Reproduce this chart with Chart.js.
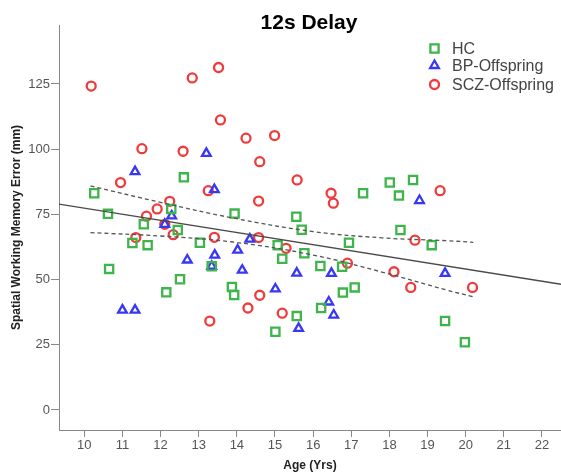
<!DOCTYPE html>
<html lang="en">
<head>
    <meta charset="UTF-8">
    <title>12s Delay</title>
    <script src="https://cdn.jsdelivr.net/npm/chart.js"></script>
    <style>
        body { margin: 0; background: #fff; }
        #wrap { width: 561px; height: 476px; }
    </style>
</head>
<body>
<div id="wrap"><canvas id="delayChart" width="561" height="476"></canvas></div>

<script>
// values
var hcAge   = [12.61, 10.26, 12.28, 10.62, 13.94, 15.56, 11.56, 12.45, 15.70, 11.26, 11.66, 13.03, 15.07, 15.77, 15.19, 13.34, 10.65, 12.51, 12.15, 13.87, 13.93, 15.57, 15.01, 17.31, 18.01, 18.62, 18.25, 18.29, 19.11, 16.94, 16.19, 16.76, 17.09, 16.78, 16.21, 19.46, 19.98];
var hcError = [89.2, 83.1, 77.1, 75.2, 75.3, 74.1, 71.2, 69.0, 69.1, 64.0, 63.2, 64.1, 63.2, 60.1, 58.0, 55.1, 54.1, 50.1, 45.1, 47.2, 44.1, 36.0, 30.0, 83.1, 87.2, 88.2, 82.2, 69.0, 63.2, 64.1, 55.2, 54.9, 47.0, 45.0, 39.1, 34.1, 26.0];

var bpAge   = [13.20, 11.33, 13.41, 12.29, 12.11, 14.34, 13.42, 14.02, 12.70, 13.34, 14.14, 15.57, 15.01, 15.62, 11.00, 11.33, 18.79, 16.48, 19.46, 16.41, 16.54];
var bpError = [98.4, 91.4, 84.5, 74.4, 71.2, 65.5, 59.4, 61.3, 57.5, 55.1, 53.6, 52.5, 46.4, 31.3, 38.3, 38.3, 80.3, 52.4, 52.4, 41.4, 36.4];

var sczAge   = [10.18, 12.83, 13.52, 13.57, 14.24, 14.99, 11.51, 12.59, 14.60, 10.95, 15.58, 13.25, 14.57, 12.24, 11.91, 11.63, 12.11, 12.33, 11.35, 13.41, 14.57, 15.29, 14.60, 14.29, 15.19, 13.29, 16.47, 16.53, 19.33, 18.67, 16.90, 18.12, 18.56, 20.18];
var sczError = [124.2, 127.3, 131.3, 111.2, 104.2, 105.2, 100.2, 99.2, 95.2, 87.2, 88.2, 84.1, 80.1, 80.0, 77.1, 74.3, 71.2, 67.2, 66.1, 66.2, 66.1, 62.0, 44.0, 39.1, 37.1, 34.1, 83.1, 79.3, 84.1, 65.1, 56.3, 53.0, 47.0, 47.0];

// fit line and its confidence band
var fitAge   = [9.336, 22.5];
var fitError = [78.9, 48.2];
var ciAge    = [10.16, 12.0, 13.9, 16.0, 17.8, 19.5, 20.2];
var ciUpper  = [85.9, 79.6, 73.6, 68.4, 66.0, 64.9, 64.3];
var ciLower  = [68.0, 66.7, 64.4, 59.4, 52.9, 46.0, 43.4];

var xTicks = [10, 11, 12, 13, 14, 15, 16, 17, 18, 19, 20, 21, 22];
var yTicks = [0, 25, 50, 75, 100, 125];

var green = '#3db54a';
var blue = '#3737f5';
var red = '#ef3b3b';
var fontFam = "Arial, 'Liberation Sans', sans-serif";

function pairs(xs, ys) {
    return xs.map(function (x, i) { return { x: x, y: ys[i] }; });
}

// title and the legend box drawn by hand, placed like the SPSS output
var decorations = {
    id: 'decorations',
    afterDraw: function (chart) {
        var ctx = chart.ctx;
        ctx.save();
        ctx.fillStyle = '#000';
        ctx.font = 'bold 21px ' + fontFam;
        ctx.textAlign = 'center';
        ctx.textBaseline = 'alphabetic';
        ctx.fillText('12s Delay', 309, 29);

        var items = [
            { text: 'HC', style: 'rect', color: green, y: 48.5, r: 5.8 },
            { text: 'BP-Offspring', style: 'triangle', color: blue, y: 65.5, r: 5 },
            { text: 'SCZ-Offspring', style: 'circle', color: red, y: 84.5, r: 4.5 }
        ];
        ctx.font = '16px ' + fontFam;
        ctx.textAlign = 'left';
        ctx.textBaseline = 'middle';
        items.forEach(function (it) {
            ctx.strokeStyle = it.color;
            ctx.fillStyle = 'rgba(0,0,0,0)';
            ctx.lineWidth = 2.3;
            Chart.helpers.drawPoint(ctx, { pointStyle: it.style, radius: it.r, rotation: 0, borderWidth: 2.3 }, 434.5, it.y);
            ctx.fillStyle = '#444';
            ctx.fillText(it.text, 452, it.y + 1);
        });
        ctx.restore();
    }
};

var ctx = document.getElementById('delayChart').getContext('2d');
var delayChart = new Chart(ctx, {
    type: 'scatter',
    data: {
        datasets: [
            {
                label: 'Fit',
                data: pairs(fitAge, fitError),
                showLine: true,
                borderColor: '#4a4a4a',
                borderWidth: 1.3,
                pointRadius: 0
            },
            {
                label: 'Upper',
                data: pairs(ciAge, ciUpper),
                showLine: true,
                borderColor: '#555',
                borderWidth: 1.3,
                borderDash: [4, 3],
                tension: 0.4,
                pointRadius: 0
            },
            {
                label: 'Lower',
                data: pairs(ciAge, ciLower),
                showLine: true,
                borderColor: '#555',
                borderWidth: 1.3,
                borderDash: [4, 3],
                tension: 0.4,
                pointRadius: 0
            },
            {
                label: 'HC',
                data: pairs(hcAge, hcError),
                pointStyle: 'rect',
                pointRadius: 5.8,
                borderColor: green,
                backgroundColor: 'rgba(0,0,0,0)',
                pointBorderWidth: 2.3
            },
            {
                label: 'BP-Offspring',
                data: pairs(bpAge, bpError),
                pointStyle: 'triangle',
                pointRadius: 5,
                borderColor: blue,
                backgroundColor: 'rgba(0,0,0,0)',
                pointBorderWidth: 2.3
            },
            {
                label: 'SCZ-Offspring',
                data: pairs(sczAge, sczError),
                pointStyle: 'circle',
                pointRadius: 4.5,
                borderColor: red,
                backgroundColor: 'rgba(0,0,0,0)',
                pointBorderWidth: 2.3
            }
        ]
    },
    options: {
        responsive: false,
        animation: false,
        devicePixelRatio: 1,
        layout: {
            autoPadding: false,
            padding: { top: 25, left: 0, right: 0, bottom: 0 }
        },
        plugins: {
            legend: { display: false },
            tooltip: { enabled: false }
        },
        scales: {
            x: {
                type: 'linear',
                min: 9.336,
                max: 22.5,
                afterBuildTicks: function (scale) {
                    scale.ticks = xTicks.map(function (v) { return { value: v }; });
                },
                afterFit: function (scale) { scale.height = 46; },
                ticks: {
                    color: '#555',
                    font: { family: fontFam, size: 13 },
                    padding: 1,
                    maxRotation: 0
                },
                grid: {
                    drawOnChartArea: false,
                    tickLength: 7,
                    tickColor: '#888'
                },
                border: { color: '#888', width: 1 },
                title: {
                    display: true,
                    text: 'Age (Yrs)',
                    color: '#222',
                    font: { family: fontFam, size: 12, weight: 'bold' },
                    padding: { top: 0, bottom: 3 }
                }
            },
            y: {
                type: 'linear',
                min: -7.67,
                max: 147.6,
                afterBuildTicks: function (scale) {
                    scale.ticks = yTicks.map(function (v) { return { value: v }; });
                },
                afterFit: function (scale) { scale.width = 59; },
                ticks: {
                    color: '#555',
                    font: { family: fontFam, size: 13 },
                    padding: 1
                },
                grid: {
                    drawOnChartArea: false,
                    tickLength: 8,
                    tickColor: '#888'
                },
                border: { color: '#888', width: 1 },
                title: {
                    display: true,
                    text: 'Spatial Working Memory Error (mm)',
                    color: '#222',
                    font: { family: fontFam, size: 12, weight: 'bold' },
                    padding: { top: 9, bottom: 0 }
                }
            }
        }
    },
    plugins: [decorations]
});
</script>
</body>
</html>
